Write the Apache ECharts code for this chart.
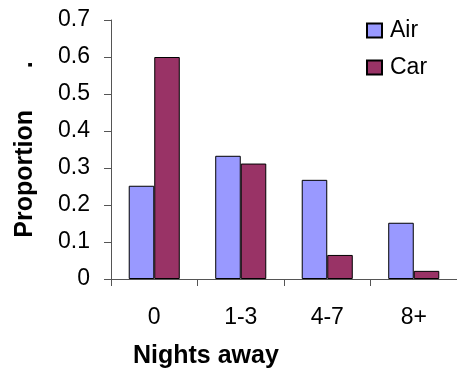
<!DOCTYPE html>
<html>
<head>
<meta charset="utf-8">
<style>
  html, body { margin: 0; padding: 0; background: #fff; }
  #chart { width: 457px; height: 373px; }
</style>
<script src="https://cdn.jsdelivr.net/npm/echarts@6/dist/echarts.min.js"></script>
</head>
<body>
<div id="chart"></div>
<script>
// Share of trips by number of nights away, per travel mode
const categories = ['0', '1-3', '4-7', '8+'];
const airValues = [0.252, 0.333, 0.268, 0.152];
const carValues = [0.600, 0.312, 0.065, 0.022];
const yTicks = [0, 0.1, 0.2, 0.3, 0.4, 0.5, 0.6, 0.7];

const font = '"Liberation Sans", Arial, sans-serif';
const chart = echarts.init(document.getElementById('chart'), null, { renderer: 'canvas' });

chart.setOption({
  animation: false,
  backgroundColor: '#ffffff',
  textStyle: { fontFamily: font, color: '#000' },
  grid: { left: 111, top: 20, width: 356, height: 259, containLabel: false },
  legend: {
    orient: 'vertical',
    left: 361,
    top: 14,
    icon: 'rect',
    itemWidth: 15,
    itemHeight: 14,
    itemGap: 14,
    textStyle: { fontFamily: font, fontSize: 23, color: '#000', padding: [0, 0, 0, 3] },
    data: ['Air', 'Car']
  },
  xAxis: {
    type: 'category',
    data: categories,
    axisLine: { lineStyle: { color: '#555', width: 1 } },
    axisTick: { show: true, alignWithLabel: false, length: 7, inside: false, lineStyle: { color: '#555' } },
    axisLabel: { fontFamily: font, fontSize: 23, color: '#000', margin: 27 },
    splitLine: { show: false }
  },
  yAxis: {
    type: 'value',
    min: yTicks[0],
    max: yTicks[yTicks.length - 1],
    interval: 0.1,
    name: 'Proportion      .',
    nameLocation: 'middle',
    nameGap: 73,
    nameRotate: 90,
    nameTextStyle: { fontFamily: font, fontSize: 25, fontWeight: 'bold', color: '#000' },
    axisLine: { show: true, lineStyle: { color: '#555', width: 1 } },
    axisTick: { show: true, length: 7, lineStyle: { color: '#555' } },
    axisLabel: {
      fontFamily: font, fontSize: 23, color: '#000', margin: 21,
      formatter: v => (Math.round(v * 10) / 10).toString()
    },
    splitLine: { show: false }
  },
  graphic: [{
    type: 'text',
    left: 133,
    top: 344,
    style: { text: 'Nights away', font: 'bold 25px ' + font, fill: '#000' }
  }],
  series: [
    {
      name: 'Air', type: 'bar', data: airValues,
      barGap: '0%', barCategoryGap: '41%',
      itemStyle: { color: '#9999FF', borderColor: '#000', borderWidth: 1 }
    },
    {
      name: 'Car', type: 'bar', data: carValues,
      barGap: '0%', barCategoryGap: '41%',
      itemStyle: { color: '#993366', borderColor: '#000', borderWidth: 1 }
    }
  ]
});
</script>
</body>
</html>
